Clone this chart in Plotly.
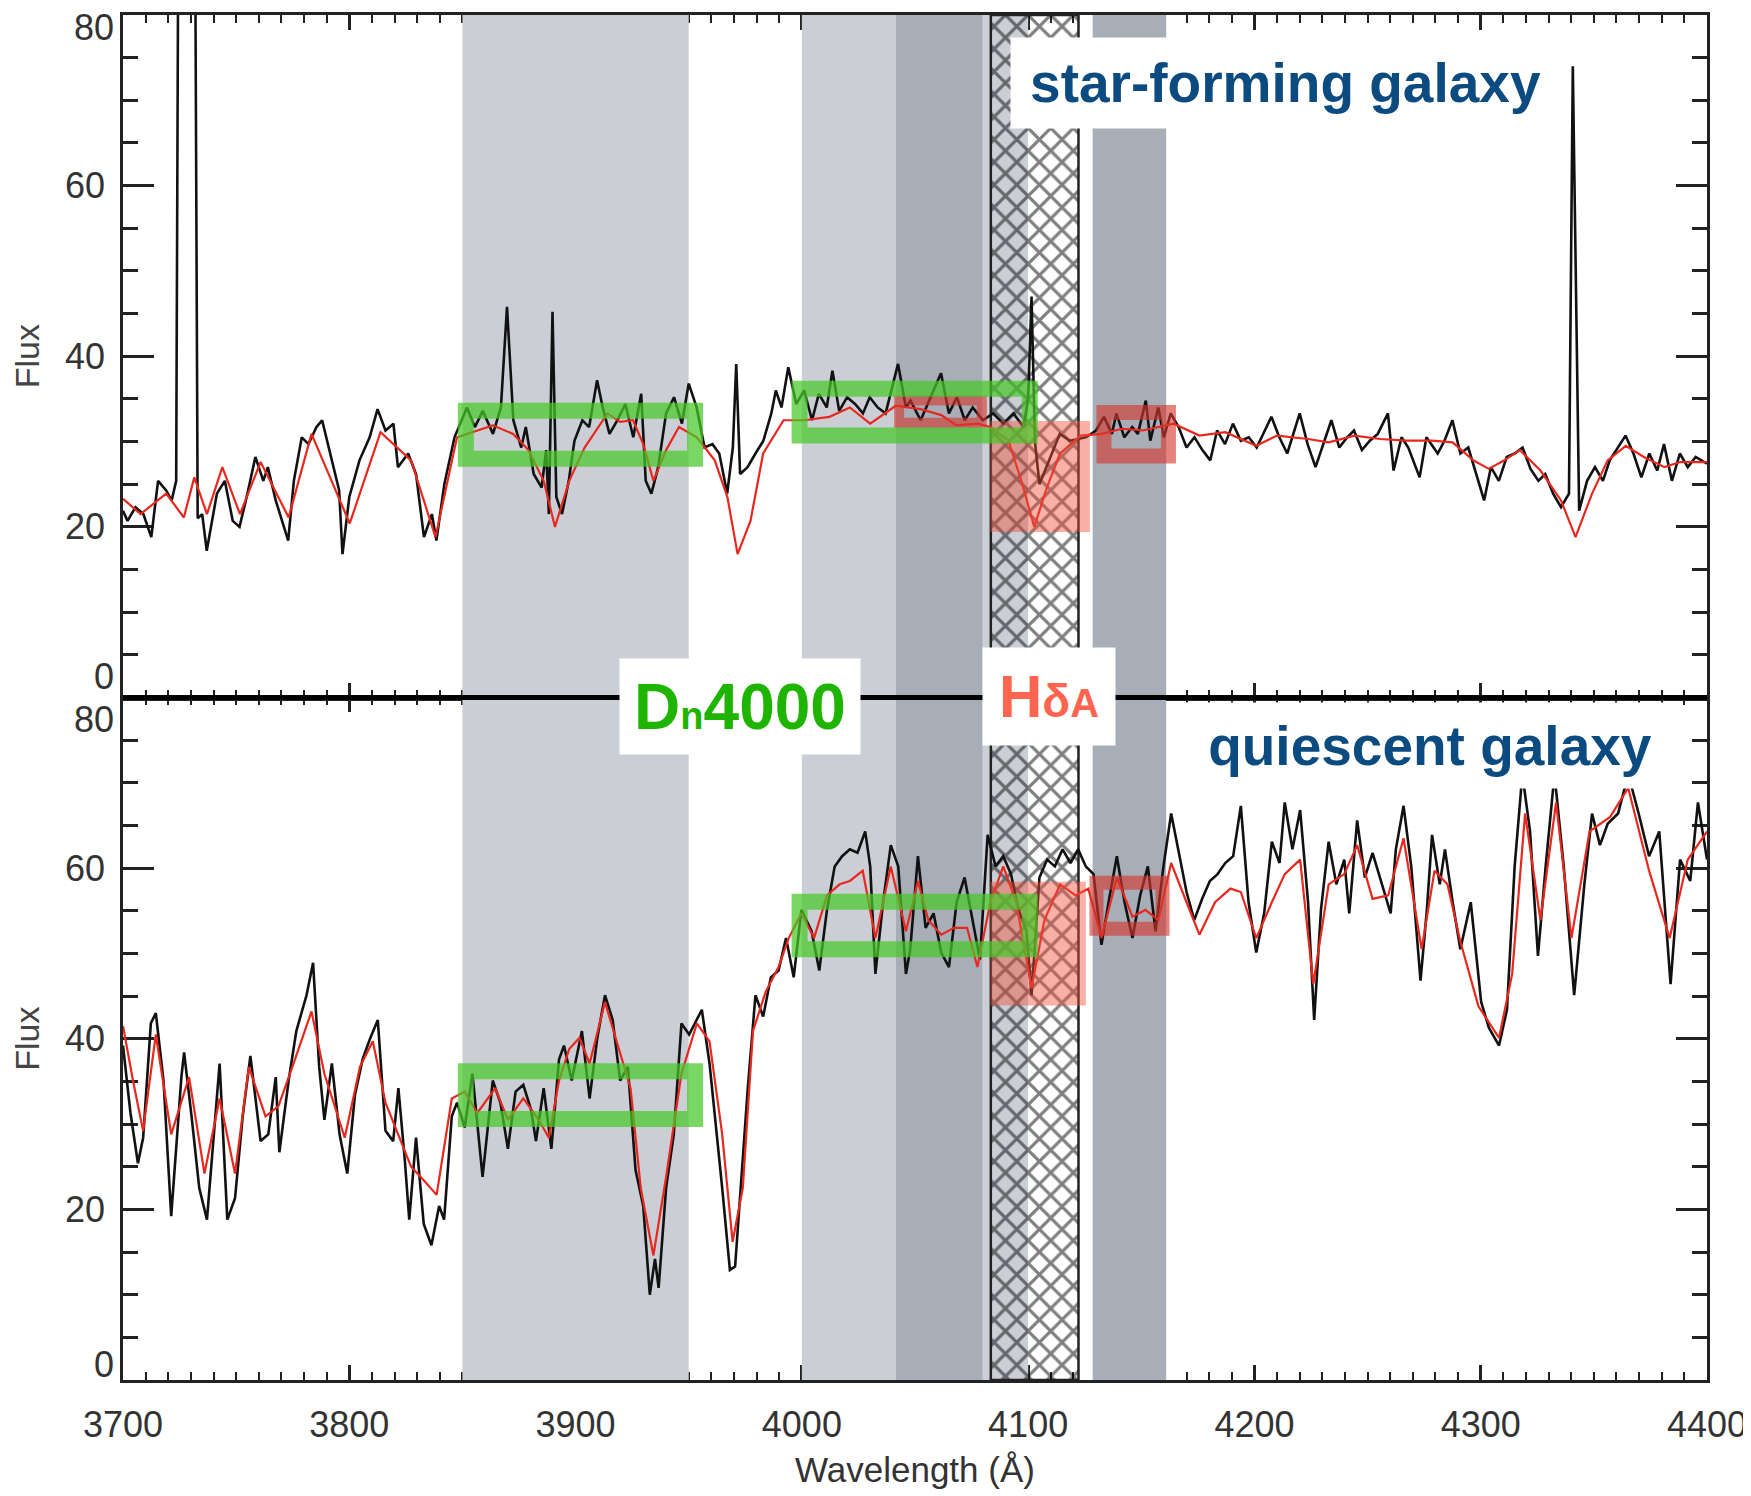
import plotly.graph_objects as go

FONT = "Liberation Sans, Arial, Helvetica, sans-serif"

# ---------------- axis / tick definitions ----------------
WL_RANGE = [3700, 4400]
FLUX_RANGE = [0, 80]
X_TICKS = [3700, 3800, 3900, 4000, 4100, 4200, 4300, 4400]
Y_TICKS = [0, 20, 40, 60, 80]

# ---------------- index windows (Angstrom) ----------------
LIGHT_BANDS = [(3850.0, 3950.0), (4000.0, 4100.0)]      # Dn4000 blue / red windows
DARK_BANDS = [(4041.6, 4079.75), (4128.5, 4161.0)]      # HdA pseudo-continua
HATCH_BAND = [(4083.5, 4122.25)]                        # HdA line window

# ---------------- star-forming galaxy: observed spectrum ----------------
sf_obs_wl = [
    3700, 3702, 3705.5, 3709, 3712.5, 3715.5, 3719, 3721.5, 3723.5, 3724.5,
    3731.8, 3733, 3735, 3737, 3741.5, 3745, 3748.5, 3751.5, 3755, 3758.5,
    3762, 3764, 3767.5, 3773, 3775.5, 3779, 3782, 3785.5, 3788, 3791,
    3795.5, 3797, 3800, 3804.5, 3809, 3812.5, 3816, 3819.5, 3821.5, 3826,
    3829.5, 3833, 3836.5, 3838.5, 3842, 3846.5, 3852, 3855.5, 3859, 3863.5,
    3867, 3869.7, 3872.5, 3876, 3878, 3881.5, 3885, 3887, 3888.2, 3889.8,
    3891.5, 3894, 3897, 3899.5, 3903, 3906, 3909.5, 3912, 3915, 3918.5,
    3922, 3925.5, 3929, 3931, 3933.5, 3936.5, 3940, 3943.5, 3947, 3950,
    3953.5, 3957, 3960.5, 3963.5, 3967, 3969.5, 3971, 3972.7, 3976, 3979.5,
    3983, 3986.5, 3988.5, 3991, 3994, 3997.5, 4001, 4004.5, 4007.5, 4011,
    4013.5, 4016.5, 4020, 4023.5, 4027, 4030, 4033.5, 4037, 4040.5, 4042.5,
    4046, 4048, 4052.5, 4057, 4061.5, 4065, 4068.5, 4072, 4075.5, 4080,
    4084.5, 4089, 4093.5, 4098, 4100, 4101.5, 4103, 4105, 4108, 4111,
    4114, 4118.5, 4125.5, 4130, 4133.5, 4137, 4139, 4142.5, 4146, 4148.5,
    4152, 4154, 4157.5, 4160, 4163, 4166.5, 4170, 4173.5, 4177, 4180.5,
    4183.5, 4187, 4190.5, 4194, 4197.5, 4201, 4204.5, 4207.5, 4211, 4214.5,
    4220, 4223.5, 4227, 4230.5, 4234, 4237.5, 4241, 4244, 4247.5, 4251,
    4254.5, 4259, 4261.5, 4265, 4268, 4273, 4276, 4281, 4284, 4287.5,
    4291, 4294.5, 4298, 4301.5, 4304.5, 4308, 4311.5, 4315, 4318.5, 4322,
    4325.5, 4328.5, 4332, 4335.5, 4339, 4340.7, 4343.5, 4347, 4350.5, 4354,
    4357, 4360.5, 4364, 4367.5, 4371, 4374.5, 4378, 4381, 4384.5, 4388,
    4391.5, 4395, 4400,
]
sf_obs_flux = [
    21.9, 20.7, 22.3, 21.5, 18.8, 25.4, 24.3, 23.1, 25.4, 95,
    95, 21.0, 21.5, 17.2, 23.9, 25.4, 20.7, 20.0, 23.9, 28.2,
    25.4, 27.0, 23.1, 18.4, 25.4, 30.5, 29.7, 31.7, 32.5, 29.3,
    24.3, 16.8, 23.5, 27.8, 30.5, 33.8, 31.3, 32.1, 27.0, 28.6,
    26.2, 18.8, 21.5, 18.4, 25.0, 30.5, 34.0, 31.7, 33.6, 30.9,
    34.0, 45.8, 32.5, 29.3, 31.7, 26.2, 24.6, 29.0, 21.5, 45.2,
    23.5, 21.5, 25.4, 30.1, 32.5, 31.7, 37.2, 34.0, 30.9, 32.5,
    34.4, 30.5, 35.6, 25.4, 23.9, 27.0, 33.3, 35.2, 32.1, 36.8,
    34.0, 29.3, 29.7, 28.6, 23.9, 29.3, 39.1, 26.2, 27.0, 28.6,
    30.1, 33.3, 36.0, 34.0, 38.7, 34.4, 36.0, 32.5, 35.6, 34.0,
    38.3, 33.6, 35.2, 34.4, 33.3, 35.2, 34.0, 33.3, 37.2, 39.1,
    34.0, 34.8, 32.5, 35.2, 38.0, 33.3, 35.2, 32.5, 34.0, 32.5,
    33.3, 32.1, 33.3, 31.7, 35.0, 47.0, 30.0, 25.0, 27.0, 29.0,
    30.9, 30.1, 30.5, 31.3, 32.9, 30.9, 33.3, 30.5, 31.7, 30.9,
    34.8, 30.1, 34.0, 30.5, 33.3, 31.7, 29.3, 30.5, 29.0, 27.8,
    31.3, 29.7, 32.1, 30.1, 30.5, 29.3, 31.3, 32.9, 30.5, 28.6,
    33.3, 29.7, 27.0, 29.7, 32.5, 29.3, 30.5, 31.3, 29.0, 30.1,
    30.9, 33.3, 26.6, 30.5, 29.3, 25.8, 30.5, 28.6, 30.1, 32.5,
    28.6, 29.3, 26.2, 23.1, 27.0, 25.4, 28.2, 28.6, 29.3, 26.8,
    25.4, 26.2, 23.9, 22.3, 23.9, 74.0, 21.9, 25.4, 27.0, 25.4,
    27.8, 29.3, 30.7, 28.6, 25.8, 28.6, 26.6, 29.7, 25.4, 28.6,
    27.0, 28.2, 27.4,
]

# ---------------- star-forming galaxy: model spectrum ----------------
sf_mod_wl = [
    3700, 3707.8, 3713.4, 3719.1, 3726.9, 3731.5, 3737.1, 3743.9, 3751.7, 3760.8,
    3773.2, 3783.3, 3800.2, 3813.8, 3827.3, 3838.1, 3847.6, 3856.6, 3863.4, 3872.4,
    3879.2, 3885.9, 3890.9, 3897.2, 3904.0, 3914.1, 3919.7, 3925.4, 3929.9, 3934.4,
    3940.0, 3945.7, 3953.6, 3961.5, 3967.1, 3971.6, 3977.3, 3982.9, 3991.9, 4000.9,
    4012.2, 4021.2, 4030.2, 4041.5, 4052.5, 4061.6, 4068.4, 4077.6, 4083.3, 4091.3,
    4097.0, 4102.7, 4108.4, 4114.1, 4123.2, 4132.4, 4141.5, 4150.6, 4164.3, 4175.7,
    4187.1, 4200.8, 4210.0, 4223.7, 4232.8, 4244.2, 4255.6, 4267.1, 4278.5, 4287.6,
    4296.7, 4303.6, 4310.4, 4317.3, 4326.4, 4335.5, 4341.9, 4349.2, 4356.1, 4364.1,
    4372.1, 4381.2, 4388.1, 4400,
]
sf_mod_flux = [
    23.3, 21.5, 22.7, 23.9, 21.1, 25.8, 21.5, 27.0, 21.5, 27.6,
    21.1, 30.9, 20.4, 31.1, 27.8, 18.8, 30.5, 31.3, 31.9, 30.9,
    29.0, 25.4, 20.0, 25.4, 29.3, 33.3, 32.3, 32.5, 29.7, 25.4,
    29.0, 31.7, 30.5, 27.8, 23.5, 16.8, 20.7, 28.6, 32.5, 32.5,
    32.9, 34.0, 32.1, 34.2, 33.8, 33.1, 31.9, 32.1, 31.7, 30.1,
    25.4, 20.0, 24.7, 28.6, 30.7, 30.9, 31.5, 31.3, 32.1, 30.7,
    31.1, 29.5, 30.7, 30.3, 29.9, 30.7, 30.3, 30.1, 30.1, 29.9,
    27.8, 26.8, 27.8, 29.0, 26.6, 23.1, 18.8, 23.9, 27.8, 29.5,
    28.2, 27.0, 27.6, 27.6,
]

# ---------------- quiescent galaxy: observed spectrum ----------------
q_obs_wl = [
    3700, 3703.3, 3706.6, 3708.9, 3712.3, 3714.5, 3717.9, 3721.3, 3725.8, 3727,
    3730.3, 3733.7, 3737.1, 3742.7, 3746.1, 3749.5, 3752.9, 3756.3, 3760.8, 3764.2,
    3767.5, 3769.1, 3773.2, 3776.6, 3781.1, 3784, 3786.7, 3789, 3792.3, 3795.7,
    3799.1, 3802.5, 3805.9, 3809.3, 3812.6, 3816, 3819.4, 3821.7, 3824.5, 3826.5,
    3829.5, 3832.9, 3836.3, 3839.7, 3841.9, 3845.3, 3847.6, 3851, 3854.4, 3858.9,
    3863.4, 3866.8, 3870.1, 3873.5, 3876.9, 3880.3, 3882.5, 3885.9, 3889.3, 3892.7,
    3894.9, 3898.3, 3902.8, 3906.2, 3909.6, 3913, 3916.4, 3919.7, 3923.1, 3926.5,
    3929.9, 3932.8, 3935.1, 3936.7, 3940, 3943.4, 3946.8, 3950.2, 3955.8, 3959.2,
    3964.8, 3968.2, 3970.5, 3973.9, 3976.1, 3979.5, 3982.9, 3986.3, 3989.7, 3993,
    3996.4, 3999.8, 4004.3, 4007.7, 4011.1, 4014.5, 4017.8, 4021.2, 4024.6, 4028,
    4030.2, 4032.5, 4035.9, 4039.3, 4042.6, 4046, 4047.9, 4051.3, 4054.7, 4058.2,
    4061.6, 4065, 4068.4, 4071.9, 4075.3, 4078.7, 4082.1, 4085.6, 4089, 4092.4,
    4095.8, 4099.3, 4101.5, 4105, 4108.4, 4111.8, 4115.2, 4118.7, 4122.1, 4125.5,
    4128.9, 4132.4, 4135.8, 4139.2, 4142.6, 4146.1, 4149.5, 4152.9, 4156.3, 4159.8,
    4163.2, 4166.6, 4170, 4173.4, 4176.9, 4180.3, 4183.7, 4187.1, 4190.6, 4194,
    4197.4, 4200.8, 4204.3, 4207.7, 4211.1, 4213.4, 4216.8, 4220.2, 4223.7, 4226.4,
    4229.4, 4232.8, 4236.2, 4239.7, 4241.9, 4245.4, 4248.8, 4252.2, 4255.6, 4260.2,
    4262.5, 4265.9, 4269.3, 4273.4, 4276.2, 4278.5, 4281.9, 4284.2, 4287.6, 4291,
    4295.6, 4300.2, 4303.6, 4308.1, 4311.6, 4315, 4318.4, 4321.8, 4325.3, 4328.7,
    4332.6, 4336.7, 4341.3, 4345.8, 4349.2, 4352.7, 4356.1, 4360.7, 4365.2, 4369.8,
    4374.4, 4378.9, 4383.9, 4388.1, 4392.6, 4396, 4400,
]
q_obs_flux = [
    39.2, 31.3, 25.4, 28.4, 41.8, 43.0, 35.1, 19.2, 35.5, 38.4,
    30.9, 22.5, 18.8, 37.1, 18.8, 21.3, 30.9, 38.0, 28.0, 28.8,
    35.5, 26.7, 35.1, 40.9, 45.1, 48.9, 36.7, 30.5, 37.1, 28.8,
    24.2, 33.4, 37.6, 40.1, 42.2, 29.2, 28.0, 34.2, 25.9, 18.8,
    28.4, 18.3, 15.8, 20.4, 18.8, 30.9, 32.5, 29.6, 35.9, 23.8,
    35.1, 32.5, 27.1, 33.8, 34.6, 31.7, 28.0, 34.2, 27.1, 37.6,
    39.2, 35.1, 40.9, 33.0, 40.1, 45.1, 42.2, 35.1, 36.7, 24.6,
    20.4, 10.0, 14.2, 10.8, 22.5, 28.8, 41.8, 40.5, 43.4, 37.1,
    22.5, 12.9, 13.3, 26.7, 34.2, 45.1, 42.6, 47.2, 48.0, 51.8,
    47.2, 55.1, 52.6, 48.0, 55.1, 60.2, 61.4, 62.2, 61.8, 64.3,
    60.2, 47.6, 56.0, 62.7, 60.2, 47.6, 50.5, 61.4, 53.0, 54.7,
    50.1, 48.4, 56.0, 58.9, 53.9, 49.3, 63.9, 60.2, 61.4, 59.3,
    55.1, 52.6, 45.1, 58.9, 61.0, 60.2, 62.2, 60.6, 62.2, 60.2,
    59.3, 51.0, 56.4, 61.4, 56.0, 51.8, 56.8, 60.2, 52.6, 60.2,
    66.4, 61.8, 57.2, 53.9, 56.4, 58.5, 59.3, 60.6, 61.4, 67.3,
    56.0, 50.1, 54.7, 63.1, 60.6, 67.7, 62.2, 66.8, 56.0, 42.2,
    55.1, 63.1, 58.1, 61.0, 54.7, 65.6, 58.9, 61.8, 58.9, 54.7,
    62.2, 67.3, 60.2, 46.8, 55.1, 63.9, 58.1, 62.2, 56.0, 50.5,
    56.0, 44.3, 41.3, 39.2, 43.4, 60.2, 71.0, 64.3, 49.7, 60.2,
    71.0, 60.2, 45.1, 58.1, 66.4, 62.7, 65.2, 66.4, 71.0, 66.4,
    61.4, 64.3, 46.4, 61.0, 58.5, 67.7, 61.0,
]

# ---------------- quiescent galaxy: model spectrum ----------------
q_mod_wl = [
    3700, 3704.4, 3708.9, 3714.5, 3721.3, 3729.2, 3736.0, 3742.7, 3749.5, 3755.6,
    3763.0, 3768.7, 3775.4, 3783.3, 3789.0, 3798.0, 3804.7, 3810.4, 3816.0, 3821.7,
    3827.3, 3832.9, 3838.6, 3845.3, 3851.0, 3856.6, 3864.5, 3870.1, 3876.9, 3883.7,
    3888.2, 3892.7, 3897.2, 3901.7, 3906.2, 3913.0, 3918.6, 3924.3, 3928.8, 3934.4,
    3940.0, 3946.8, 3953.6, 3959.2, 3964.8, 3969.4, 3973.9, 3978.4, 3984.0, 3989.7,
    3994.2, 3999.8, 4005.4, 4011.1, 4016.7, 4021.2, 4026.9, 4032.5, 4039.3, 4046.0,
    4051.3, 4055.9, 4061.6, 4067.3, 4073.0, 4077.6, 4083.3, 4089.0, 4094.7, 4101.5,
    4107.2, 4114.1, 4121.0, 4126.6, 4132.4, 4139.2, 4146.1, 4151.8, 4157.5, 4163.2,
    4170.0, 4175.7, 4182.6, 4189.4, 4194.0, 4200.8, 4207.7, 4213.4, 4220.2, 4226.0,
    4232.8, 4239.7, 4245.4, 4252.2, 4259.1, 4265.9, 4273.9, 4279.6, 4285.3, 4291.0,
    4299.0, 4308.1, 4313.9, 4319.6, 4326.4, 4333.3, 4340.1, 4348.1, 4357.2, 4365.2,
    4374.4, 4383.5, 4391.5, 4400,
]
q_mod_flux = [
    41.5, 35.1, 29.2, 40.5, 28.8, 35.5, 24.2, 33.0, 24.2, 36.7,
    30.9, 32.1, 37.1, 43.2, 35.9, 28.4, 36.7, 39.7, 32.5, 28.8,
    25.0, 23.4, 21.7, 33.0, 33.8, 31.3, 34.2, 30.5, 33.0, 30.5,
    28.4, 35.1, 38.8, 40.1, 37.1, 44.3, 39.2, 34.2, 22.5, 14.6,
    23.8, 35.9, 41.8, 39.7, 28.8, 16.2, 22.5, 40.9, 45.5, 48.4,
    51.8, 54.7, 51.8, 56.8, 58.1, 58.5, 59.7, 51.8, 60.2, 52.6,
    58.5, 53.9, 52.2, 53.0, 53.0, 48.4, 56.0, 60.2, 56.0, 45.9,
    53.9, 58.1, 56.8, 57.6, 51.8, 58.9, 54.3, 55.1, 53.9, 60.6,
    56.0, 52.2, 56.0, 57.6, 57.2, 51.8, 56.0, 59.3, 61.0, 46.4,
    58.1, 59.3, 62.7, 56.4, 56.8, 63.5, 50.5, 59.7, 58.1, 51.4,
    43.8, 40.1, 47.6, 66.4, 53.9, 67.7, 51.8, 64.3, 66.0, 69.4,
    59.7, 51.8, 61.0, 64.3,
]

assert len(sf_obs_wl) == len(sf_obs_flux)
assert len(sf_mod_wl) == len(sf_mod_flux)
assert len(q_obs_wl) == len(q_obs_flux)
assert len(q_mod_wl) == len(q_mod_flux)

# ---------------- measurement boxes (x0, x1, y0, y1) ----------------
SF_DN_BOXES = [(3851.5, 3952.8, 28.0, 33.6), (3999.0, 4100.7, 30.7, 36.2)]
Q_DN_BOXES = [(3851.5, 3952.8, 30.6, 36.2), (3999.0, 4100.7, 50.5, 56.05)]
SF_HD_LINE = [(4083.3, 4127.3, 19.4, 32.4)]
Q_HD_LINE = [(4083.3, 4125.5, 43.9, 58.4)]
SF_HD_CONT = [(4043.0, 4079.5, 32.2, 34.8), (4133.5, 4162.0, 28.3, 33.4)]
Q_HD_CONT = [(4130.2, 4159.4, 52.9, 58.3)]

# ---------------- colours ----------------
LIGHT_GRAY = "#cbcfd5"
DARK_GRAY = "#a7aeb8"
OBS_COLOR = "#111111"
MOD_COLOR = "#e8281e"
GREEN_EDGE = "rgba(70,200,40,0.72)"
RED_FILL = "rgba(240,80,60,0.45)"
RED_EDGE = "rgba(215,55,45,0.62)"
BLUE_TXT = "#0b4b80"
GREEN_TXT = "#1eb400"
CORAL_TXT = "#ff6450"

fig = go.Figure()


def band_trace(bands, color, xa, ya):
    return go.Bar(
        x=[(a + b) / 2 for a, b in bands],
        y=[FLUX_RANGE[1] - FLUX_RANGE[0]] * len(bands),
        base=FLUX_RANGE[0],
        width=[b - a for a, b in bands],
        marker=dict(color=color, line=dict(width=0)),
        xaxis=xa, yaxis=ya, hoverinfo="skip", showlegend=False,
    )


def hatch_trace(bands, xa, ya):
    return go.Bar(
        x=[(a + b) / 2 for a, b in bands],
        y=[FLUX_RANGE[1] - FLUX_RANGE[0]] * len(bands),
        base=FLUX_RANGE[0],
        width=[b - a for a, b in bands],
        marker=dict(
            color="rgba(0,0,0,0)",
            line=dict(width=2.5, color="#222222"),
            pattern=dict(shape="x", size=16, solidity=0.36, fgcolor="#000000",
                         bgcolor="rgba(0,0,0,0)", fillmode="overlay"),
        ),
        xaxis=xa, yaxis=ya, hoverinfo="skip", showlegend=False,
    )


panels = [
    ("x", "y", sf_obs_wl, sf_obs_flux, sf_mod_wl, sf_mod_flux),
    ("x2", "y2", q_obs_wl, q_obs_flux, q_mod_wl, q_mod_flux),
]
for xa, ya, ow, of, mw, mf in panels:
    fig.add_trace(band_trace(LIGHT_BANDS, LIGHT_GRAY, xa, ya))
    fig.add_trace(band_trace(DARK_BANDS, DARK_GRAY, xa, ya))
    fig.add_trace(hatch_trace(HATCH_BAND, xa, ya))
    fig.add_trace(go.Scatter(x=ow, y=of, mode="lines", xaxis=xa, yaxis=ya,
                             line=dict(color=OBS_COLOR, width=2.6), showlegend=False,
                             name="observed"))
    fig.add_trace(go.Scatter(x=mw, y=mf, mode="lines", xaxis=xa, yaxis=ya,
                             line=dict(color=MOD_COLOR, width=2.2), showlegend=False,
                             name="model"))

shapes = []


def add_boxes(boxes, xref, yref, edge=None, width=0, fill=None):
    for x0, x1, y0, y1 in boxes:
        shapes.append(dict(
            type="rect", xref=xref, yref=yref, x0=x0, x1=x1, y0=y0, y1=y1,
            line=dict(color=edge if edge else "rgba(0,0,0,0)", width=width),
            fillcolor=fill if fill else "rgba(0,0,0,0)", layer="above"))


add_boxes(SF_HD_LINE, "x", "y", fill=RED_FILL)
add_boxes(Q_HD_LINE, "x2", "y2", fill=RED_FILL)
add_boxes(SF_HD_CONT[:1], "x", "y", edge=RED_EDGE, width=10)
add_boxes(SF_HD_CONT[1:], "x", "y", edge=RED_EDGE, width=15)
add_boxes(Q_HD_CONT, "x2", "y2", edge=RED_EDGE, width=14)
add_boxes(SF_DN_BOXES, "x", "y", edge=GREEN_EDGE, width=16)
add_boxes(Q_DN_BOXES, "x2", "y2", edge=GREEN_EDGE, width=16)

# panel separator
shapes.append(dict(type="line", xref="paper", yref="paper", x0=0, x1=1, y0=0.5, y1=0.5,
                   line=dict(color="black", width=5), layer="above"))

axis_line = dict(showline=True, linecolor="#222222", linewidth=2.5, mirror="allticks",
                 showgrid=False, zeroline=False, layer="below traces", automargin=False,
                 ticks="inside", tickcolor="#222222", tickwidth=2.5)

xaxis_common = dict(axis_line, range=WL_RANGE, tickmode="array", tickvals=X_TICKS,
                    ticklen=15,
                    minor=dict(tickmode="linear", tick0=WL_RANGE[0], dtick=10,
                               ticks="inside", ticklen=8, tickwidth=2,
                               tickcolor="#222222", showgrid=False),
                    tickfont=dict(family=FONT, size=36, color="#333333"),
                    ticklabelstandoff=11)

y_text = [str(v) if FLUX_RANGE[0] < v < FLUX_RANGE[1] else "" for v in Y_TICKS]
yaxis_common = dict(axis_line, range=FLUX_RANGE, tickmode="array", tickvals=Y_TICKS,
                    ticktext=y_text, ticklen=31,
                    minor=dict(tickmode="linear", tick0=0, dtick=5, ticks="inside",
                               ticklen=15, tickwidth=2.5, tickcolor="#222222",
                               showgrid=False),
                    tickfont=dict(family=FONT, size=36, color="#333333"),
                    ticklabelstandoff=8,
                    title=dict(text="Flux", font=dict(family=FONT, size=34, color="#444444"),
                               standoff=22))

# the page body adds an 8 px offset; margins compensate so the plot area
# sits at x 123..1707 and y 15..1380 in the final picture
fig.update_layout(
    width=1751, height=1496,
    margin=dict(l=115, r=52, t=7, b=124, autoexpand=False),
    plot_bgcolor="white", paper_bgcolor="white",
    barmode="overlay", showlegend=False,
    xaxis=dict(xaxis_common, domain=[0, 1], anchor="y", showticklabels=False, matches="x2"),
    xaxis2=dict(xaxis_common, domain=[0, 1], anchor="y2",
                title=dict(text="Wavelength (Å)", font=dict(family=FONT, size=35, color="#333333"),
                           standoff=14)),
    yaxis=dict(yaxis_common, domain=[0.5, 1], anchor="x"),
    yaxis2=dict(yaxis_common, domain=[0, 0.5], anchor="x2"),
    shapes=shapes,
)

annotations = []
tick_font = dict(family=FONT, size=36, color="#333333")
# end tick labels (0 / 80), kept inside each panel like the original
end_labels = [("y", Y_TICKS[-1], "top", 3), ("y", Y_TICKS[0], "bottom", 6),
              ("y2", Y_TICKS[-1], "top", -6), ("y2", Y_TICKS[0], "bottom", 0)]
for yref, val, anchor, shift in end_labels:
    annotations.append(dict(xref="paper", yref=yref, x=0, y=val, text=str(val),
                            xanchor="right", yanchor=anchor, xshift=-8, yshift=shift,
                            height=29, borderpad=0, showarrow=False, font=tick_font))

label_font = dict(family=FONT, weight="bold")
annotations += [
    dict(xref="paper", yref="paper", x=0.7336, y=0.9502, xanchor="center", yanchor="middle",
         text="star-forming galaxy", showarrow=False, bgcolor="white", width=549, height=90,
         borderpad=0, font=dict(label_font, size=55, color=BLUE_TXT)),
    dict(xref="paper", yref="paper", x=0.8251, y=0.4652, xanchor="center", yanchor="middle",
         text="quiescent galaxy", showarrow=False, bgcolor="white", width=500, height=85,
         borderpad=0, font=dict(label_font, size=55, color=BLUE_TXT)),
    dict(xref="paper", yref="paper", x=0.3895, y=0.4934, xanchor="center", yanchor="middle",
         text="D<span style='font-size:38px'>n</span>4000", showarrow=False, bgcolor="white",
         width=240, height=95, borderpad=0, font=dict(label_font, size=64, color=GREEN_TXT)),
    dict(xref="paper", yref="paper", x=0.5846, y=0.5007, xanchor="center", yanchor="middle",
         text="H<span style='font-size:46px'>δ</span><span style='font-size:40px'>A</span>",
         showarrow=False, bgcolor="white", width=132, height=97, borderpad=0,
         font=dict(label_font, size=60, color=CORAL_TXT)),
]
fig.update_layout(annotations=annotations)

fig.write_html("out.html")
